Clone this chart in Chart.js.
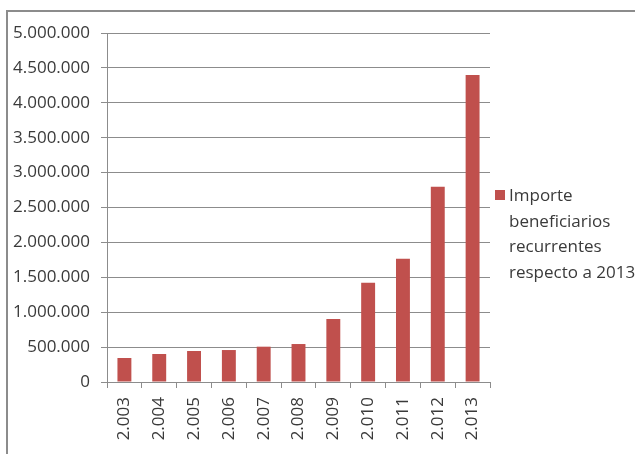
<!DOCTYPE html>
<html>
<head>
<meta charset="utf-8">
<script src="https://cdn.jsdelivr.net/npm/chart.js@4"></script>
<style>
  body { margin: 0; background: #fff; }
  #wrap { position: relative; width: 635px; height: 454px; overflow: hidden; }
  #frame {
    position: absolute; left: 6px; top: 10px; width: 640px; height: 460px;
    border-top: 2px solid #8c8c8c; border-left: 2px solid #8c8c8c;
  }
  #legend {
    position: absolute; left: 495px; top: 182px; white-space: nowrap;
    font-family: "Open Sans", sans-serif; font-size: 17px; line-height: 25.5px; color: #3a3a3a;
  }
  #legend .box {
    position: absolute; left: 0; top: 8px; width: 10px; height: 10px; background: #C0504D;
  }
  #legend .txt { margin-left: 14px; }
</style>
</head>
<body>
<div id="wrap">
  <canvas id="chart" width="635" height="454"></canvas>
  <div id="frame"></div>
  <div id="legend"><span class="box"></span><div class="txt" id="legendText"></div></div>
</div>
<script>
// Categories (years, written with Spanish thousand separator)
const years = ['2.003', '2.004', '2.005', '2.006', '2.007', '2.008', '2.009', '2.010', '2.011', '2.012', '2.013'];

// Series values
const importe = [344000, 401000, 444000, 458000, 506000, 544000, 903000, 1423000, 1766000, 2798000, 4398000];

const seriesLabel = ['Importe', 'beneficiarios', 'recurrentes', 'respecto a 2013'];

const barColor = '#C0504D';
const gridColor = '#8c8c8c';
const textColor = '#3a3a3a';

// 5000000 -> "5.000.000"
function formatThousands(v) {
  return String(v).replace(/\B(?=(\d{3})+(?!\d))/g, '.');
}

document.getElementById('legendText').innerHTML = seriesLabel.join('<br>');

const ctx = document.getElementById('chart').getContext('2d');

new Chart(ctx, {
  type: 'bar',
  data: {
    labels: years,
    datasets: [{
      label: seriesLabel.join(' '),
      data: importe,
      backgroundColor: barColor,
      borderWidth: 0,
      barPercentage: 0.4,
      categoryPercentage: 1
    }]
  },
  options: {
    responsive: false,
    animation: false,
    layout: {
      padding: { left: 0, right: 145, top: 33, bottom: 0 }
    },
    plugins: {
      legend: { display: false },
      tooltip: { enabled: false }
    },
    scales: {
      x: {
        grid: {
          offset: true,
          drawOnChartArea: false,
          drawTicks: true,
          tickLength: 6,
          color: gridColor
        },
        border: { color: gridColor },
        ticks: {
          color: textColor,
          minRotation: 90,
          maxRotation: 90,
          padding: 9,
          font: { family: 'Open Sans', size: 17 }
        },
        afterFit: function(scale) {
          scale.height = 72;
        }
      },
      y: {
        min: 0,
        max: 5000000,
        grid: {
          color: gridColor,
          tickLength: 6
        },
        border: { color: gridColor },
        ticks: {
          stepSize: 500000,
          color: textColor,
          padding: 11,
          font: { family: 'Open Sans', size: 17 },
          callback: function(value) {
            return formatThousands(value);
          }
        },
        afterFit: function(scale) {
          scale.width = 107;
        }
      }
    }
  }
});
</script>
</body>
</html>
